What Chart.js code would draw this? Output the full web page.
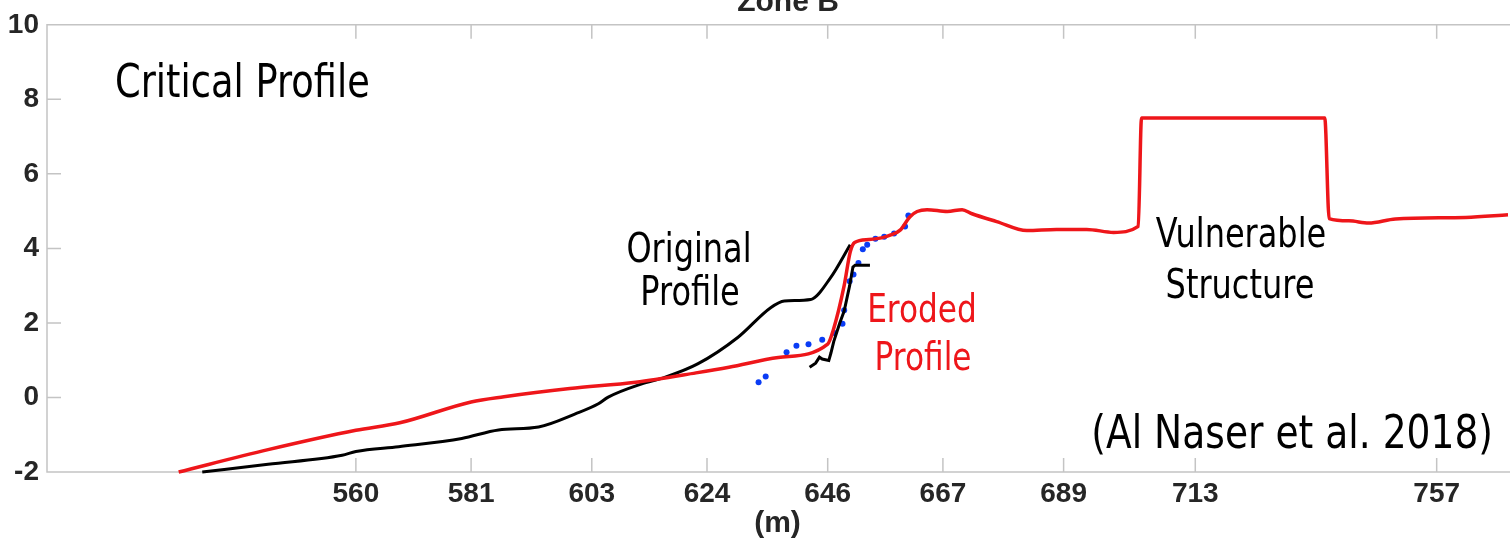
<!DOCTYPE html>
<html>
<head>
<meta charset="utf-8">
<title>Zone B - Critical Profile</title>
<script src="https://cdn.jsdelivr.net/npm/chart.js@4/dist/chart.umd.min.js"></script>
<style>
  html, body { margin: 0; padding: 0; background: #fff; }
  #profileChart { display: block; }
</style>
</head>
<body>
<canvas id="profileChart" width="1512" height="539"></canvas>
<script>
// cross-shore distance (m) and elevation (m) of each profile
const erodedX = [527.7, 544, 560, 568, 581, 587, 599, 611, 622, 628, 637, 646, 647, 649, 650.1, 650.9, 653.5, 656, 657.5, 659.2, 661, 662.3, 664.1, 667.8, 670.5, 672.3, 676.8, 682.3, 687.7, 693.2, 698.1, 702.6, 703.2, 736.6, 737.4, 741, 744.6, 749.5, 762.3, 770];
const erodedY = [-2, -1.40, -0.88, -0.68, -0.12, 0.02, 0.24, 0.41, 0.66, 0.81, 1.07, 1.43, 1.8, 3.0, 3.9, 4.16, 4.24, 4.29, 4.36, 4.49, 4.85, 4.99, 5.04, 4.99, 5.04, 4.93, 4.72, 4.48, 4.51, 4.51, 4.43, 4.59, 7.5, 7.5, 4.8, 4.74, 4.68, 4.79, 4.83, 4.9];

const originalX = [532, 544, 557.5, 560, 567.8, 579.3, 586, 593.3, 600, 604.2, 606, 612, 616.3, 622.3, 629.6, 635.6, 638.1, 642.9, 646.5, 650.1];
const originalY = [-2, -1.79, -1.55, -1.45, -1.32, -1.1, -0.87, -0.79, -0.44, -0.17, 0.01, 0.36, 0.54, 0.9, 1.61, 2.41, 2.59, 2.63, 3.21, 4.1];

// steep scarp face of the original profile
const scarpX = [642.7, 643.8, 644.5, 645, 646.2, 646.6, 647.1, 648.2, 649.0, 650.0, 650.6, 651, 653.7];
const scarpY = [0.81, 0.92, 1.08, 1.03, 0.99, 1.2, 1.5, 2.0, 2.32, 3.0, 3.5, 3.55, 3.55];

// surveyed points
const surveyX = [633.4, 634.7, 638.5, 640.3, 642.5, 645, 647.2, 648.7, 649, 650, 650.7, 651.6, 652.4, 653.2, 654.7, 656.3, 658.1, 660.1, 660.7];
const surveyY = [0.41, 0.56, 1.21, 1.39, 1.43, 1.55, 1.73, 1.98, 2.34, 3.12, 3.3, 3.61, 3.98, 4.1, 4.26, 4.31, 4.4, 4.59, 4.88];

const xTicks = [560, 581, 603, 624, 646, 667, 689, 713, 757];
const yTicks = [-2, 0, 2, 4, 6, 8, 10];

const pts = (xs, ys) => xs.map((x, i) => ({ x: x, y: ys[i] }));

const RED = 'rgb(238, 22, 26)';
const AXIS_GREY = '#c4c4c4';
const LABEL = '#262626';

// box around the plot with inward tick marks
const framePlugin = {
  id: 'frame',
  beforeDatasetsDraw(chart) {
    const { ctx, chartArea: a, scales: { x, y } } = chart;
    ctx.save();
    ctx.strokeStyle = AXIS_GREY;
    ctx.lineWidth = 1.5;
    ctx.beginPath();
    ctx.moveTo(a.right + 2, a.top);
    ctx.lineTo(a.left, a.top);
    ctx.lineTo(a.left, a.bottom);
    ctx.lineTo(a.right + 2, a.bottom);
    xTicks.forEach(v => {
      const px = x.getPixelForValue(v);
      ctx.moveTo(px, a.bottom);
      ctx.lineTo(px, a.bottom - 14);
      ctx.moveTo(px, a.top);
      ctx.lineTo(px, a.top + 14);
    });
    yTicks.forEach(v => {
      const py = y.getPixelForValue(v);
      ctx.moveTo(a.left, py);
      ctx.lineTo(a.left + 14, py);
    });
    ctx.stroke();
    ctx.restore();
  }
};

function note(ctx, text, x, y, size, color, align) {
  ctx.save();
  ctx.translate(x, y);
  ctx.scale(0.8, 1);
  ctx.font = size + 'px "DejaVu Sans"';
  ctx.fillStyle = color;
  ctx.textAlign = align;
  ctx.textBaseline = 'alphabetic';
  ctx.fillText(text, 0, 0);
  ctx.restore();
}

// panel title and the text notes on the plot
const notesPlugin = {
  id: 'notes',
  afterDraw(chart) {
    const ctx = chart.ctx;
    ctx.save();
    ctx.font = 'bold 30px "Liberation Sans"';
    ctx.fillStyle = LABEL;
    ctx.textAlign = 'center';
    ctx.fillText('Zone B', 788, 11);
    ctx.restore();

    note(ctx, 'Critical Profile', 115, 97, 46, '#000', 'left');
    note(ctx, 'Original', 689, 262, 40, '#000', 'center');
    note(ctx, 'Profile', 690, 305, 40, '#000', 'center');
    note(ctx, 'Eroded', 922, 322, 39, RED, 'center');
    note(ctx, 'Profile', 923, 370, 39, RED, 'center');
    note(ctx, 'Vulnerable', 1241, 247, 40, '#000', 'center');
    note(ctx, 'Structure', 1240, 298, 40, '#000', 'center');
    note(ctx, '(Al Naser et al. 2018)', 1493, 448, 47, '#000', 'right');
  }
};

const ctx = document.getElementById('profileChart').getContext('2d');
const profileChart = new Chart(ctx, {
  type: 'scatter',
  data: {
    datasets: [{
      label: 'Eroded Profile',
      data: pts(erodedX, erodedY),
      showLine: true,
      cubicInterpolationMode: 'monotone',
      borderColor: RED,
      borderWidth: 3.5,
      pointRadius: 0,
      clip: false
    }, {
      label: 'Original Profile',
      data: pts(originalX, originalY),
      showLine: true,
      cubicInterpolationMode: 'monotone',
      borderColor: '#000',
      borderWidth: 3,
      pointRadius: 0,
      clip: false
    }, {
      label: 'Original Profile (scarp)',
      data: pts(scarpX, scarpY),
      showLine: true,
      borderColor: '#000',
      borderWidth: 3,
      pointRadius: 0,
      clip: false
    }, {
      label: 'Survey',
      data: pts(surveyX, surveyY),
      showLine: false,
      pointRadius: 3,
      pointBackgroundColor: 'rgb(10, 60, 245)',
      pointBorderWidth: 0,
      clip: false
    }]
  },
  options: {
    responsive: false,
    animation: false,
    layout: { padding: { top: 22, right: 0, left: 0, bottom: 0 } },
    plugins: {
      legend: { display: false },
      tooltip: { enabled: false }
    },
    scales: {
      x: {
        type: 'linear',
        min: 503.7,
        max: 770,
        afterBuildTicks: scale => { scale.ticks = xTicks.map(v => ({ value: v })); },
        afterFit: scale => { scale.height = 67; },
        grid: { display: false, drawTicks: false },
        border: { display: false },
        ticks: {
          padding: 5,
          color: LABEL,
          font: { family: 'Liberation Sans', size: 28, weight: 'bold' },
          callback: v => String(v)
        },
        title: {
          display: true,
          text: '(m)',
          color: LABEL,
          padding: 0,
          font: { family: 'Liberation Sans', size: 30, weight: 'bold', lineHeight: 1 }
        }
      },
      y: {
        min: -2,
        max: 10,
        afterBuildTicks: scale => { scale.ticks = yTicks.map(v => ({ value: v })); },
        afterFit: scale => { scale.width = 47; },
        grid: { display: false, drawTicks: false },
        border: { display: false },
        ticks: {
          padding: 8,
          color: LABEL,
          font: { family: 'Liberation Sans', size: 28, weight: 'bold' }
        }
      }
    }
  },
  plugins: [framePlugin, notesPlugin]
});
</script>
</body>
</html>
